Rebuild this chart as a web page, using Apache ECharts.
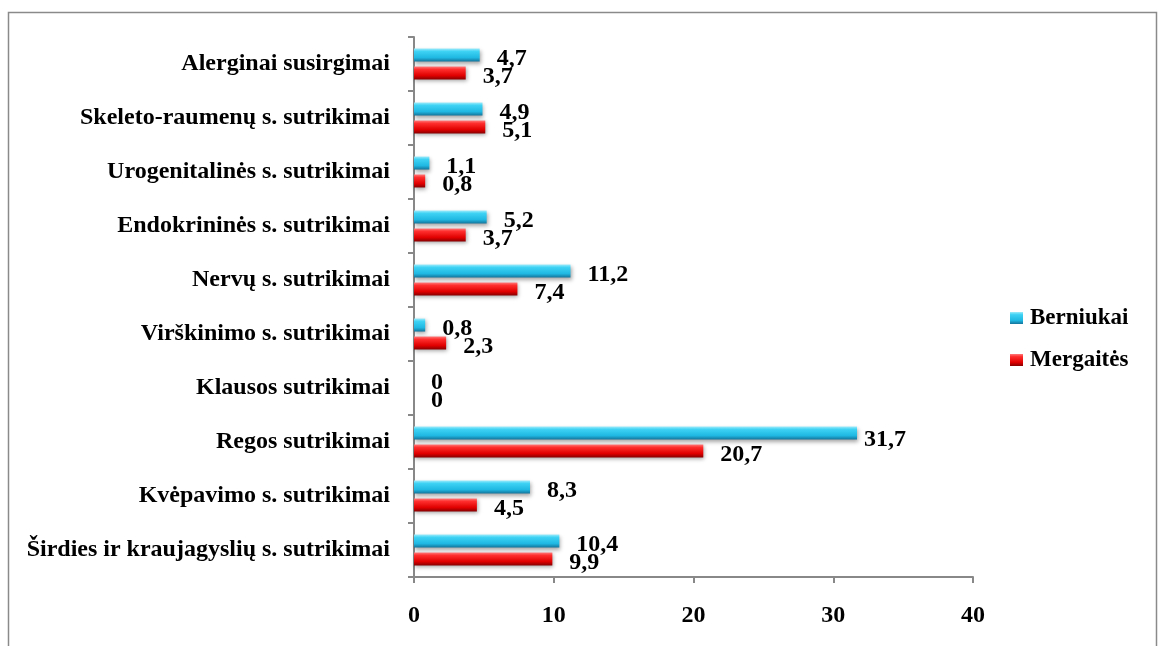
<!DOCTYPE html>
<html>
<head>
<meta charset="utf-8">
<script src="https://cdn.jsdelivr.net/npm/echarts@6/dist/echarts.min.js"></script>
<style>html,body{margin:0;padding:0;background:#fff;}#c{width:1160px;height:646px;}</style>
</head>
<body>
<div id="c"></div>
<script>
var categories = [
  'Širdies ir kraujagyslių s. sutrikimai',
  'Kvėpavimo s. sutrikimai',
  'Regos sutrikimai',
  'Klausos sutrikimai',
  'Virškinimo s. sutrikimai',
  'Nervų s. sutrikimai',
  'Endokrininės s. sutrikimai',
  'Urogenitalinės s. sutrikimai',
  'Skeleto-raumenų s. sutrikimai',
  'Alerginai susirgimai'
];
var berniukai = [10.4, 8.3, 31.7, 0, 0.8, 11.2, 5.2, 1.1, 4.9, 4.7];
var mergaites = [9.9, 4.5, 20.7, 0, 2.3, 7.4, 3.7, 0.8, 5.1, 3.7];
var xTicks = [0, 10, 20, 30, 40];

var FONT = '"Liberation Serif", "Times New Roman", serif';
function fmt(p) { return String(p.value).replace('.', ','); }
function grad(stops) {
  return new echarts.graphic.LinearGradient(0, 0, 0, 1, stops.map(function (s) { return { offset: s[0], color: s[1] }; }));
}
var blueFill = grad([[0, '#9BEBFB'], [0.22, '#3ED2F4'], [0.7, '#1FB8E2'], [1, '#14739A']]);
var redFill = grad([[0, '#FF7A7A'], [0.22, '#FF2E2E'], [0.7, '#E00000'], [1, '#870000']]);

var labelBase = { show: true, position: 'right', distance: 17, offset: [0, 4], formatter: fmt,
  color: '#000', fontFamily: FONT, fontWeight: 'bold', fontSize: 24 };

var blueData = berniukai.map(function (v, i) {
  if (v > 30) return { value: v, label: { distance: 7, offset: [0, 7] } };
  return v;
});

var chart = echarts.init(document.getElementById('c'));
chart.setOption({
  animation: false,
  backgroundColor: '#fff',
  graphic: [{
    type: 'rect', silent: true, z: -1,
    shape: { x: 8.5, y: 12.5, width: 1148, height: 700 },
    style: { fill: 'none', stroke: '#8a8a8a', lineWidth: 1.5 }
  }],
  grid: { left: 414, right: 187, top: 37, bottom: 69, containLabel: false },
  legend: {
    orient: 'vertical', left: 1005, top: 301,
    data: ['Berniukai', 'Mergaitės'],
    icon: 'rect', itemWidth: 13, itemHeight: 12, itemGap: 18,
    textStyle: { fontFamily: FONT, fontWeight: 'bold', fontSize: 23, color: '#000', lineHeight: 24, padding: [0, 0, 0, 2] }
  },
  xAxis: {
    type: 'value', min: xTicks[0], max: xTicks[xTicks.length - 1], interval: 10,
    axisLine: { show: true, lineStyle: { color: '#888', width: 2 } },
    axisTick: { show: true, length: 6, lineStyle: { color: '#888', width: 2 } },
    splitLine: { show: false },
    axisLabel: { margin: 27, color: '#000', fontFamily: FONT, fontWeight: 'bold', fontSize: 24 }
  },
  yAxis: {
    type: 'category', data: categories,
    axisLine: { show: true, lineStyle: { color: '#888', width: 2 } },
    axisTick: { show: true, length: 6, lineStyle: { color: '#888', width: 2 } },
    axisLabel: { margin: 24, color: '#000', fontFamily: FONT, fontWeight: 'bold', fontSize: 24 }
  },
  series: [
    {
      name: 'Berniukai', type: 'bar', data: blueData, barWidth: 13, barGap: '38%',
      itemStyle: { color: blueFill, shadowColor: 'rgba(0,0,0,0.35)', shadowBlur: 4, shadowOffsetX: 1, shadowOffsetY: 2 },
      label: labelBase
    },
    {
      name: 'Mergaitės', type: 'bar', data: mergaites, barWidth: 13, barGap: '38%',
      itemStyle: { color: redFill, shadowColor: 'rgba(0,0,0,0.35)', shadowBlur: 4, shadowOffsetX: 1, shadowOffsetY: 2 },
      label: labelBase
    }
  ]
});
</script>
</body>
</html>
